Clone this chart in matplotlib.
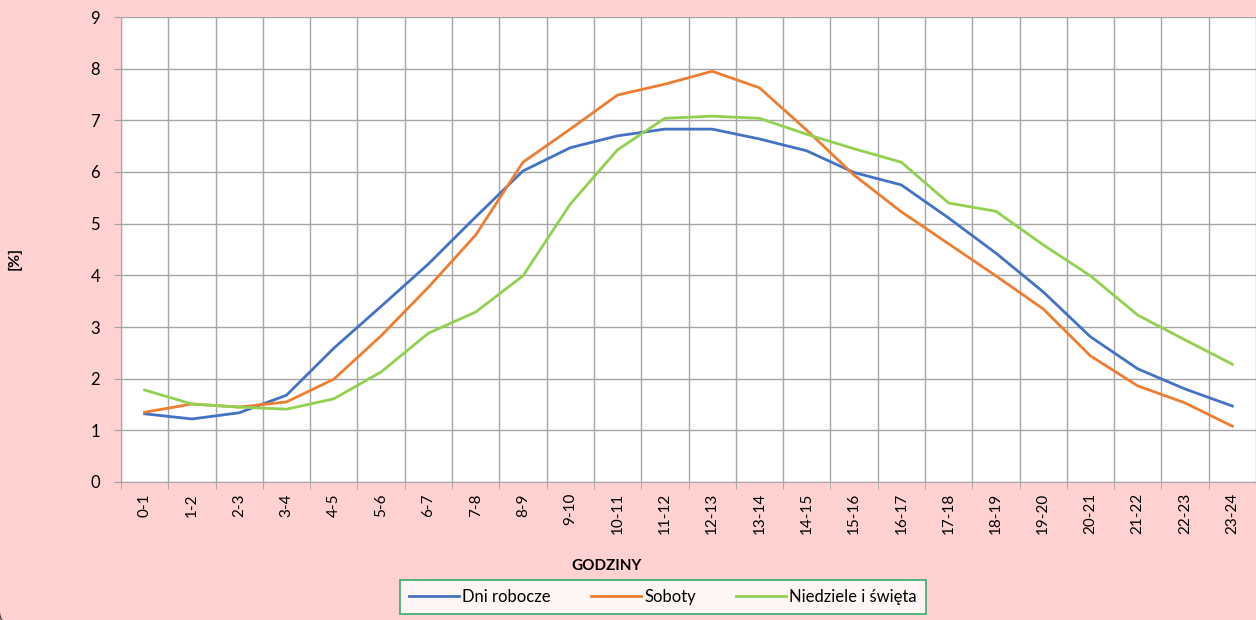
import matplotlib
matplotlib.use('Agg')
import matplotlib.pyplot as plt
from matplotlib.patches import FancyBboxPatch
from matplotlib.transforms import IdentityTransform
import numpy as np

# godziny doby
godziny = ['0-1', '1-2', '2-3', '3-4', '4-5', '5-6', '6-7', '7-8', '8-9', '9-10',
           '10-11', '11-12', '12-13', '13-14', '14-15', '15-16', '16-17', '17-18',
           '18-19', '19-20', '20-21', '21-22', '22-23', '23-24']

dni_robocze = [1.32, 1.22, 1.34, 1.68, 2.59, 3.40, 4.22, 5.13, 6.02, 6.47, 6.70, 6.83,
               6.83, 6.64, 6.41, 5.99, 5.75, 5.11, 4.43, 3.68, 2.81, 2.19, 1.80, 1.47]
soboty = [1.35, 1.51, 1.45, 1.55, 1.99, 2.83, 3.77, 4.78, 6.19, 6.83, 7.49, 7.70,
          7.95, 7.63, 6.81, 5.94, 5.23, 4.61, 3.99, 3.35, 2.44, 1.86, 1.53, 1.08]
niedziele = [1.78, 1.51, 1.45, 1.41, 1.61, 2.13, 2.88, 3.29, 3.99, 5.38, 6.43, 7.04,
             7.08, 7.04, 6.73, 6.45, 6.19, 5.40, 5.24, 4.59, 3.99, 3.23, 2.75, 2.28]

plt.rcParams['font.family'] = ['Lato', 'DejaVu Sans']

bg = '#FFD1D1'
fig = plt.figure(figsize=(12.56, 6.2), dpi=100, facecolor=bg)
ax = fig.add_axes([121/1256, 138/620, 1135/1256, 465/620])
ax.set_facecolor('white')

x = np.arange(len(godziny))
ax.plot(x, dni_robocze, color='#4472C4', lw=2.0, label='Dni robocze')
ax.plot(x, soboty, color='#ED7D31', lw=2.0, label='Soboty')
ax.plot(x, niedziele, color='#92D050', lw=2.0, label='Niedziele i święta')

ax.set_xlim(-0.5, len(godziny) - 0.5)
ax.set_ylim(0, 9)
ax.set_yticks(range(0, 10))
ax.set_xticks(x)
ax.set_xticklabels(godziny, rotation=90, fontsize=11)
ax.set_xticks(np.arange(-0.5, len(godziny)), minor=True)
ax.tick_params(axis='x', which='major', length=0, pad=8)
ax.tick_params(axis='x', which='minor', length=5, color='#A0A0A0', direction='out')
ax.tick_params(axis='y', length=5, color='#A0A0A0', labelsize=12, pad=10)

ax.grid(True, which='minor', axis='x', color='#A6A6A6', lw=1)
ax.grid(True, which='major', axis='y', color='#A6A6A6', lw=1)
for s in ['top', 'right']:
    ax.spines[s].set_visible(False)
for s in ['left', 'bottom']:
    ax.spines[s].set_color('#A6A6A6')

ax.set_xlabel('GODZINY', fontsize=11, fontweight='bold')
ax.xaxis.set_label_coords((606 - 121) / 1135, -0.166)
fig.text(15/1256, 1 - 258/620, '[%]', rotation=90, fontsize=11.5, fontweight='bold',
         ha='center', va='center')

# tytul - w oryginale obciety u gory, widac tylko ogonki liter
fig.text(548/1256, 1 + 3.5/620, 'Udział ruchu przy średnim natężeniu', fontsize=14,
         fontweight='bold', ha='left', va='baseline')

leg = ax.legend(loc='center', bbox_to_anchor=(663/1256, 1 - 597/620),
                bbox_transform=fig.transFigure, ncol=3, fontsize=12, frameon=True,
                fancybox=False, handlelength=3.0, columnspacing=2.4, handletextpad=0.2,
                borderpad=0.55, borderaxespad=0)
leg.get_frame().set_edgecolor('#00A050')
leg.get_frame().set_linewidth(1.2)

# ramka wykresu z zaokraglonym rogiem
fig.patches.append(FancyBboxPatch((-1, -8), 1400, 800, boxstyle='round,pad=0,rounding_size=20',
                                  transform=IdentityTransform(), facecolor='none',
                                  edgecolor='#404040', lw=1, figure=fig))

fig.savefig('out.png', dpi=100, facecolor=bg)
